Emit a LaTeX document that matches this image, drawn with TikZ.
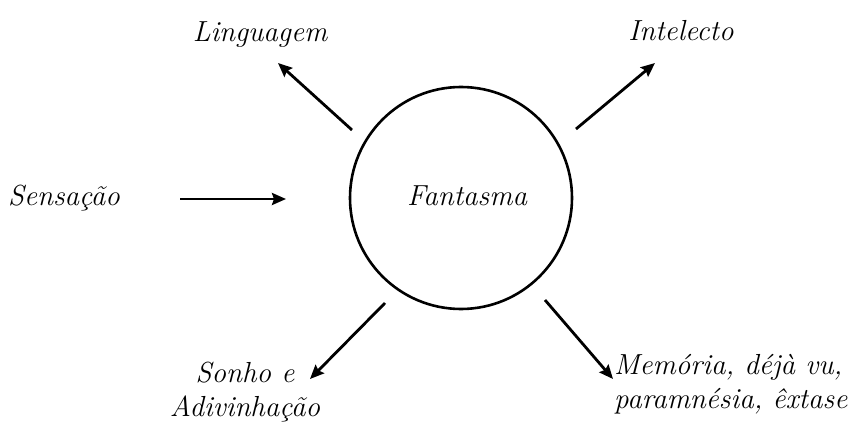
\documentclass[tikz,border=0pt]{standalone}
\usepackage{fontspec}
\setmainfont{Latin Modern Roman}
\usetikzlibrary{arrows.meta}
\begin{document}
\begin{tikzpicture}[x=1pt,y=-1pt,
  lbl/.style={font=\fontsize{29}{34}\selectfont\itshape, inner sep=0pt, anchor=base},
  conn/.style={line width=2.8pt, -{Stealth[length=14pt,width=12pt,inset=2pt]}}]
\useasboundingbox (0,0) rectangle (852,425);
\node[draw, circle, line width=2.6pt, minimum size=222pt, inner sep=0pt] (F) at (461,198) {};
\node[lbl] (Fl) at (467,206) {Fantasma};
\node[lbl] (ling) at (260,42) {Linguagem};
\node[lbl] (int) at (681,41) {Intelecto};
\node[lbl] (sens) at (64,205) {Sensação};
\node[lbl, align=center] (sonho) at (245,416) {Sonho e\\Adivinhação};
\node[lbl, align=left, anchor=base west] (mem) at (614,408) {Memória, déjà vu,\\paramnésia, êxtase};
\coordinate (a1) at (352,130); \coordinate (b1) at (278,63);
\coordinate (a2) at (576,129); \coordinate (b2) at (655,63);
\coordinate (a3) at (180,199); \coordinate (b3) at (286,199);
\coordinate (a4) at (385,303); \coordinate (b4) at (310,379);
\coordinate (a5) at (545,300); \coordinate (b5) at (613,379);
\draw[conn] (a1) -- (b1);
\draw[conn] (a2) -- (b2);
\draw[conn] (a3) -- (b3);
\draw[conn] (a4) -- (b4);
\draw[conn] (a5) -- (b5);
\end{tikzpicture}
\end{document}
